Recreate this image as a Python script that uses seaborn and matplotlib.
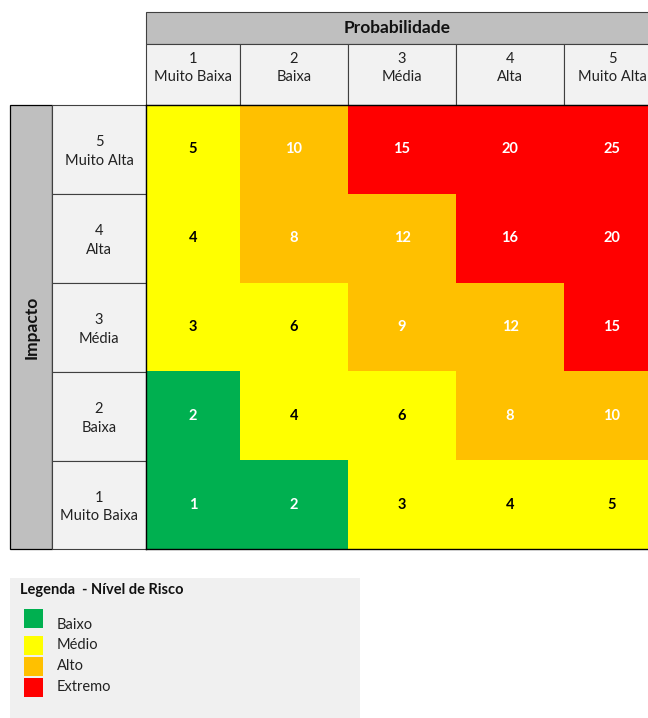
import numpy as np
import pandas as pd
import matplotlib
matplotlib.use('Agg')
import matplotlib.pyplot as plt
from matplotlib.colors import ListedColormap
from matplotlib.patches import Rectangle
import seaborn as sns

# dados da matriz de risco (linhas: impacto 5 -> 1, colunas: probabilidade 1 -> 5)
prob_labels = ['1\nMuito Baixa', '2\nBaixa', '3\nMédia', '4\nAlta', '5\nMuito Alta']
imp_labels = ['5\nMuito Alta', '4\nAlta', '3\nMédia', '2\nBaixa', '1\nMuito Baixa']
scores = [[5, 10, 15, 20, 25],
          [4, 8, 12, 16, 20],
          [3, 6, 9, 12, 15],
          [2, 4, 6, 8, 10],
          [1, 2, 3, 4, 5]]
# 0 = Baixo, 1 = Médio, 2 = Alto, 3 = Extremo
levels = [[1, 2, 3, 3, 3],
          [1, 2, 2, 3, 3],
          [1, 1, 2, 2, 3],
          [0, 1, 1, 2, 2],
          [0, 0, 1, 1, 1]]
level_names = ['Baixo', 'Médio', 'Alto', 'Extremo']
level_colors = ['#00B050', '#FFFF00', '#FFC000', '#FF0000']
text_colors = ['white', 'black', 'white', 'white']

sns.set_style('white')
plt.rcParams['font.family'] = ['Lato', 'DejaVu Sans']

W, H = 648, 718
fig = plt.figure(figsize=(W / 100, H / 100), dpi=100)

# eixo "tela" em pixels para cabecalhos e legenda
canvas = fig.add_axes([0, 0, 1, 1])
canvas.set_xlim(0, W)
canvas.set_ylim(H, 0)
canvas.axis('off')

col_edges = [146, 240, 348, 456, 564, 660]
row_edges = [105, 194, 283, 372, 461, 549]
line_c = '#404040'
gray = '#BFBFBF'
light = '#F2F2F2'

# cabecalho Probabilidade
canvas.add_patch(Rectangle((146, 12), 520, 32, facecolor=gray, edgecolor=line_c, lw=0.8))
canvas.text((146 + 648) / 2, 28, 'Probabilidade', ha='center', va='center',
            fontsize=12.5, fontweight='bold', color='#111111')
for i, lab in enumerate(prob_labels):
    x0, x1 = col_edges[i], col_edges[i + 1]
    canvas.add_patch(Rectangle((x0, 44), x1 - x0, 61, facecolor=light, edgecolor=line_c, lw=0.8))
    canvas.text((x0 + x1) / 2, 68, lab, ha='center', va='center', fontsize=10.5,
                linespacing=1.45, color='#222222')

# lateral Impacto
canvas.add_patch(Rectangle((10, 105), 42, 444, facecolor=gray, edgecolor='black', lw=0.9))
canvas.text(32, 327, 'Impacto', ha='center', va='center', rotation=90,
            fontsize=12.5, fontweight='bold', color='#111111')
for j, lab in enumerate(imp_labels):
    y0, y1 = row_edges[j], row_edges[j + 1]
    canvas.add_patch(Rectangle((52, y0), 94, y1 - y0, facecolor=light, edgecolor=line_c, lw=0.8))
    canvas.text(99, (y0 + y1) / 2 + 2, lab, ha='center', va='center', fontsize=10.5,
                linespacing=1.45, color='#222222')

# matriz (heatmap)
ax = fig.add_axes([146 / W, (H - 549) / H, (W - 146) / W, (549 - 105) / H])
df_lvl = pd.DataFrame(levels, index=imp_labels, columns=prob_labels)
cmap = ListedColormap(level_colors)
sns.heatmap(df_lvl, ax=ax, cmap=cmap, vmin=-0.5, vmax=3.5, cbar=False,
            annot=np.array(scores), fmt='d', xticklabels=False, yticklabels=False,
            annot_kws={'fontsize': 10.5, 'fontweight': 'bold'})
flat_lvls = np.array(levels).ravel()
for t, lv in zip(ax.texts, flat_lvls):
    t.set_color(text_colors[lv])

idx = np.arange(len(col_edges))
ax.set_xscale('function', functions=(lambda v: np.interp(v, idx, col_edges),
                                     lambda p: np.interp(p, col_edges, idx)))
ax.set_xlim(0, np.interp(W, col_edges, idx))
ax.set_ylim(5, 0)
ax.set_xticks([])
ax.set_yticks([])
ax.xaxis.set_minor_locator(matplotlib.ticker.NullLocator())
for s in ['left', 'bottom', 'top']:
    ax.spines[s].set_visible(True)
    ax.spines[s].set_color('black')
    ax.spines[s].set_linewidth(1.0)
ax.spines['right'].set_visible(False)

# legenda
canvas.add_patch(Rectangle((10, 578), 350, 140, facecolor='#F0F0F0', edgecolor='none'))
canvas.text(20, 590, 'Legenda  - Nível de Risco', ha='left', va='center',
            fontsize=10.5, fontweight='bold', color='#111111')
sq_tops = [609, 636, 657, 678]
lab_ys = [625, 645, 666, 687]
for name, color, top, ly in zip(level_names, level_colors, sq_tops, lab_ys):
    canvas.add_patch(Rectangle((24, top), 19, 19, facecolor=color, edgecolor='none'))
    canvas.text(57, ly, name, ha='left', va='center', fontsize=10.5, color='#222222')

fig.savefig('out.png', dpi=100, facecolor='white')
